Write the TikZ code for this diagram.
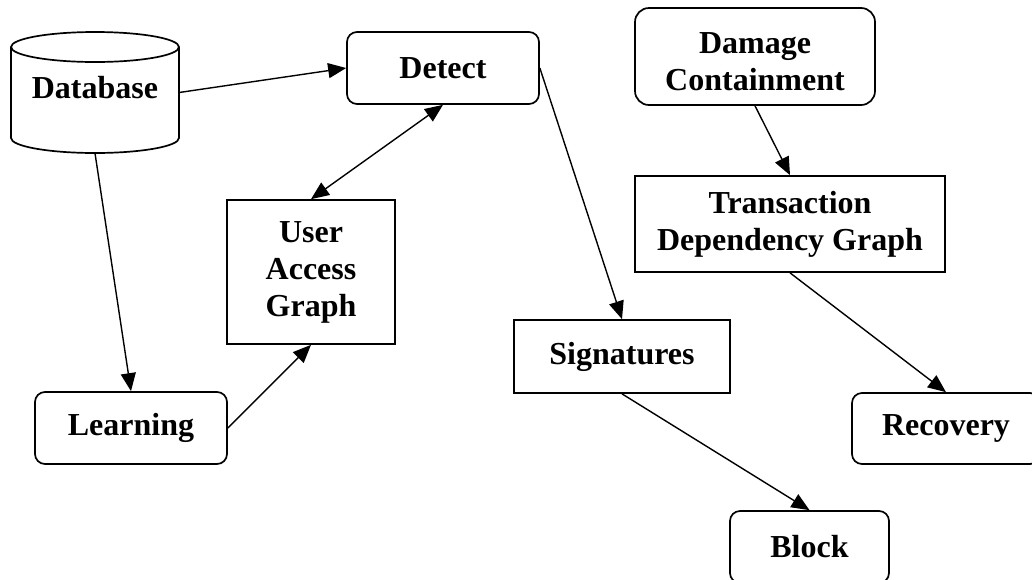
\documentclass[tikz,border=0pt]{standalone}
\usepackage{fontspec}
\setmainfont{Liberation Serif}
\usetikzlibrary{arrows.meta}
\begin{document}
\begin{tikzpicture}[x=1pt,y=-1pt,
  >={Triangle[length=18pt,width=15pt]},
  lbl/.style={font=\bfseries\fontsize{32}{37}\selectfont, align=center, inner sep=0pt},
  box/.style={lbl, draw, line width=1.7pt, fill=white},
  rbox/.style={box, rounded corners=10pt},
  conn/.style={line width=1.4pt, ->},
]
\useasboundingbox (0,0) rectangle (1032,579);
% Database cylinder
\node[inner sep=0pt, minimum width=168pt, minimum height=121pt] (db) at (95,92.5) {};
\draw[line width=1.7pt, fill=white] (11,47) -- (11,138)
   arc[start angle=180, end angle=360, x radius=84pt, y radius=15pt]
   -- (179,47);
\draw[line width=1.7pt, fill=white] (95,47) ellipse [x radius=84pt, y radius=15pt];
\node[lbl] (dbtext) at (95,88) {Database};
% Boxes
\node[rbox, minimum width=192pt, minimum height=72pt] (detect) at (443,68) {Detect};
\node[box, rounded corners=14pt, minimum width=240pt, minimum height=97pt] (damage) at (755,56.5) {\rule{0pt}{31pt}Damage\\Containment};
\node[box, minimum width=310pt, minimum height=96pt] (tdg) at (790,224) {Transaction\\Dependency Graph};
\node[box, minimum width=168pt, minimum height=144pt] (uag) at (311,272) {User\\Access\\Graph};
\node[rbox, minimum width=192pt, minimum height=72pt] (learning) at (131,428) {Learning};
\node[box, minimum width=216pt, minimum height=73pt] (sig) at (622,356.5) {Signatures};
\node[rbox, minimum width=188pt, minimum height=71pt] (recovery) at (946,428.5) {Recovery};
\node[rbox, minimum width=159pt, minimum height=72pt] (block) at (809.5,547) {Block};
% Connectors
\draw[conn] (db.east) -- (detect.west);
\draw[conn] (db.south) -- (learning.north);
\draw[conn] (learning.east) -- (uag.south);
\draw[line width=1.4pt, <->] (uag.north) -- (detect.south);
\draw[conn] (detect.east) -- (sig.north);
\draw[conn] (sig.south) -- (block.north);
\draw[conn] (damage.south) -- (tdg.north);
\draw[conn] (tdg.south) -- (recovery.north);
\end{tikzpicture}
\end{document}
